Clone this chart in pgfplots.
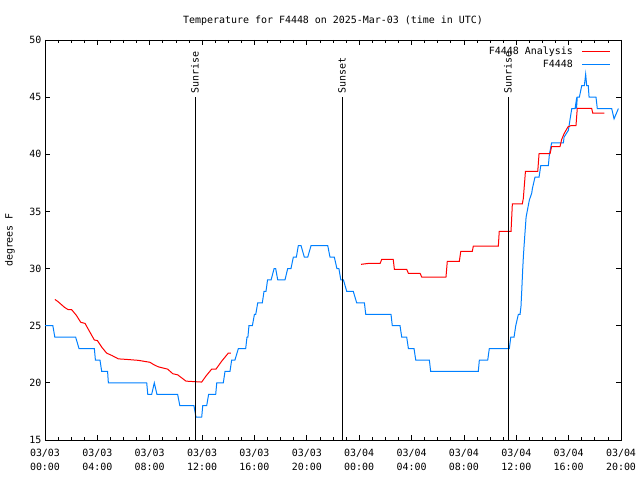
\documentclass[border=0pt]{standalone}
\usepackage{fontspec}
\setmainfont{DejaVu Sans Mono}
\usepackage{pgfplots}
\pgfplotsset{compat=1.18}
\definecolor{sblue}{RGB}{0,128,255}
\begin{document}
\begin{tikzpicture}
\useasboundingbox (-45bp,-40bp) rectangle (595bp,440bp);
\begin{axis}[
  at={(0,0)}, anchor=south west,
  scale only axis, width=576bp, height=400bp,
  xmin=0, xmax=44, ymin=15, ymax=50,
  xtick={0,4,...,44},
  xticklabels={{03/03\\00:00},{03/03\\04:00},{03/03\\08:00},{03/03\\12:00},{03/03\\16:00},{03/03\\20:00},{03/04\\00:00},{03/04\\04:00},{03/04\\08:00},{03/04\\12:00},{03/04\\16:00},{03/04\\20:00}},
  xticklabel style={align=center, font=\fontsize{10}{14}\selectfont, yshift=-6bp},
  yticklabel style={font=\fontsize{10}{12}\selectfont},
  minor x tick num=3,
  ytick={15,20,...,50},
  tick style={black, line width=0.8bp},
  major tick length=5bp, minor tick length=3bp,
  axis line style={black, line width=0.8bp},
  /pgf/number format/assume math mode=true,
  title={Temperature for F4448 on 2025-Mar-03 (time in UTC)},
  title style={at={(axis description cs:0.5,1)}, anchor=center, yshift=13bp, font=\fontsize{10}{12}\selectfont},
  ylabel={degrees F},
  ylabel style={at={(axis description cs:-0.0608,0.5)}, anchor=center, font=\fontsize{10}{12}\selectfont},
  legend style={draw=none, fill=none, at={(axis description cs:1,1)}, anchor=north east, xshift=-7bp, yshift=-3bp, legend cell align=right, font=\fontsize{10}{12}\selectfont, row sep=0bp, /tikz/every odd column/.append style={column sep=7bp}},
  legend plot pos=right,
  legend image code/.code={\draw[#1] (0bp,0bp) -- (28bp,0bp);},
]
\addplot[red, line width=1bp] coordinates {(0.76,27.3)(1.0,27.1)(1.5,26.6)(1.78,26.4)(2.04,26.4)(2.4,25.9)(2.73,25.3)(3.06,25.2)(3.4,24.5)(3.77,23.75)(4.0,23.7)(4.35,23.1)(4.71,22.6)(5.1,22.4)(5.6,22.1)(6.24,22.05)(7.13,21.97)(8.02,21.8)(8.3,21.6)(8.66,21.4)(9.37,21.2)(9.76,20.8)(10.14,20.7)(10.77,20.15)(11.97,20.07)(12.3,20.6)(12.73,21.2)(13.06,21.2)(13.5,21.9)(14.0,22.6)(14.2,22.6)};
\addlegendentry{F4448 Analysis}
\addplot[sblue, line width=1bp] coordinates {(0,25)(0.6,25)(0.75,24)(2.34,24)(2.6,23)(3.77,23)(3.85,22)(4.2,22)(4.33,21)(4.78,21)(4.84,20)(7.77,20)(7.85,19)(8.15,19)(8.35,20)(8.55,19)(10.13,19)(10.3,18)(11.38,18)(11.53,17)(11.97,17)(12.05,18)(12.35,18)(12.5,19)(13.04,19)(13.12,20)(13.62,20)(13.75,21)(14.13,21)(14.26,22)(14.51,22)(14.77,23)(15.33,23)(15.43,24)(15.5,24)(15.58,25)(15.84,25)(16.0,26)(16.1,26)(16.25,27)(16.6,27)(16.73,28)(16.88,28)(17.0,29)(17.27,29)(17.5,30)(17.62,30)(17.78,29)(18.33,29)(18.54,30)(18.79,30)(18.97,31)(19.2,31)(19.35,32)(19.56,32)(19.81,31)(20.07,31)(20.32,32)(21.6,32)(21.77,31)(22.1,31)(22.3,30)(22.45,30)(22.6,29)(22.8,29)(23.05,28)(23.55,28)(23.81,27)(24.4,27)(24.5,26)(26.43,26)(26.53,25)(27.12,25)(27.25,24)(27.63,24)(27.76,23)(28.19,23)(28.32,22)(29.36,22)(29.46,21)(33.1,21)(33.18,22)(33.82,22)(33.94,23)(35.47,23)(35.58,24)(35.83,24)(35.96,25)(36.16,26)(36.29,26)(36.36,26.7)(36.42,28.1)(36.49,29.9)(36.54,31.0)(36.59,31.9)(36.75,34.5)(36.85,35.1)(37.0,36.0)(37.18,36.6)(37.23,37.0)(37.43,38)(37.74,38)(37.87,39)(38.45,39)(38.53,40)(38.7,41)(39.6,41)(39.65,41.5)(39.98,42.1)(40.1,43)(40.24,44)(40.49,44)(40.57,44.6)(40.6,44)(40.66,45)(40.82,45)(41.0,46)(41.2,46)(41.3,47)(41.38,46)(41.5,46)(41.56,45)(42.09,45)(42.19,44)(43.29,44)(43.47,43.1)(43.8,44)};
\addlegendentry{F4448}
\addplot[red, line width=1bp, forget plot] coordinates {(24.14,30.37)(24.7,30.45)(25.6,30.45)(25.72,30.8)(26.6,30.8)(26.69,29.93)(27.63,29.93)(27.76,29.58)(28.65,29.58)(28.78,29.26)(30.63,29.26)(30.73,30.63)(31.65,30.63)(31.76,31.5)(32.64,31.5)(32.72,31.97)(34.63,31.97)(34.7,33.26)(35.6,33.26)(35.7,35.65)(36.46,35.65)(36.54,36.15)(36.7,38.5)(37.64,38.5)(37.74,40.05)(38.58,40.05)(38.7,40.67)(39.34,40.67)(39.47,41.3)(39.65,41.8)(39.95,42.4)(40.16,42.5)(40.56,42.5)(40.66,44.02)(41.76,44.02)(41.84,43.6)(42.73,43.6)};
\addplot[black, line width=1bp, forget plot] coordinates {(11.46,15)(11.46,45)};
\addplot[black, line width=1bp, forget plot] coordinates {(22.69,15)(22.69,45)};
\addplot[black, line width=1bp, forget plot] coordinates {(35.37,15)(35.37,45)};
\node[rotate=90, anchor=west, inner sep=3bp, font=\fontsize{10}{12}\selectfont] at (axis cs:11.46,45) {Sunrise};
\node[rotate=90, anchor=west, inner sep=3bp, font=\fontsize{10}{12}\selectfont] at (axis cs:22.69,45) {Sunset};
\node[rotate=90, anchor=west, inner sep=3bp, font=\fontsize{10}{12}\selectfont] at (axis cs:35.37,45) {Sunrise};
\end{axis}
\end{tikzpicture}
\end{document}
